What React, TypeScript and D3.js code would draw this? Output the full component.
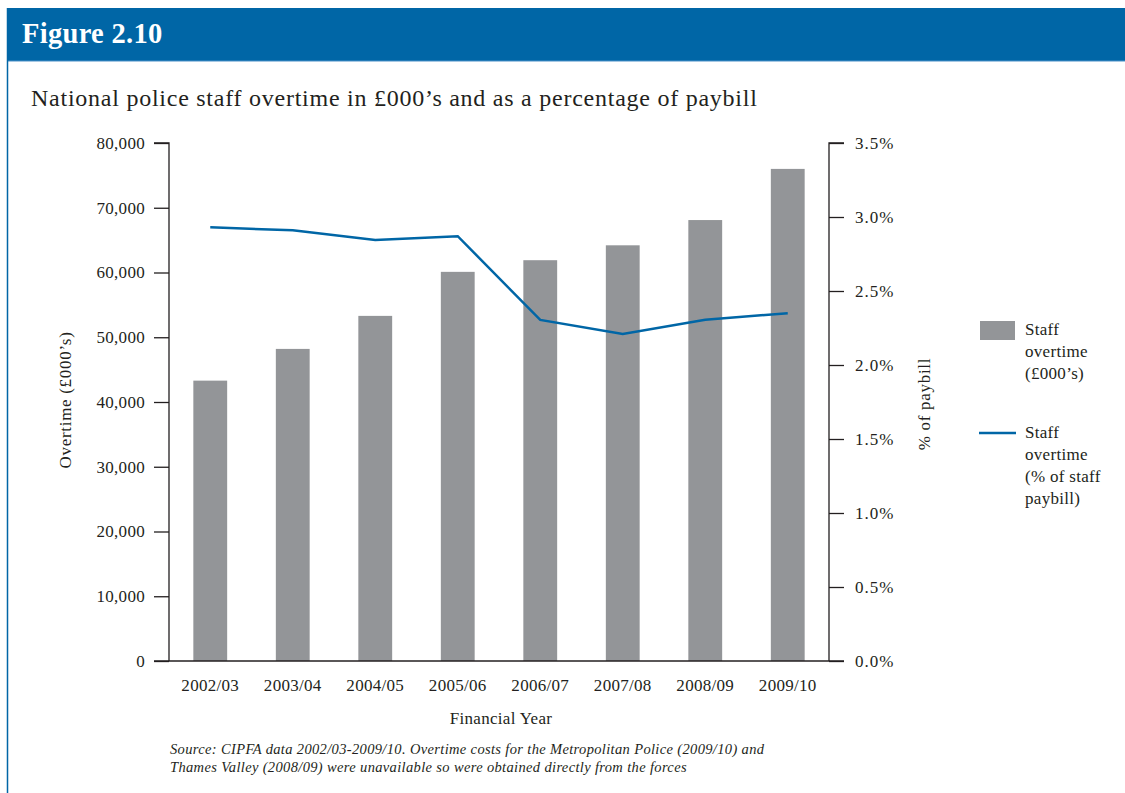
import { useEffect, useRef } from 'react';
import * as d3 from 'd3';

const YEARS = ['2002/03', '2003/04', '2004/05', '2005/06', '2006/07', '2007/08', '2008/09', '2009/10'];
const OVERTIME = [43300, 48200, 53300, 60100, 61900, 64200, 68100, 76000];
const PCT_PAYBILL = [2.93, 2.91, 2.845, 2.87, 2.305, 2.21, 2.305, 2.35];
const LEFT_TICKS = [0, 10000, 20000, 30000, 40000, 50000, 60000, 70000, 80000];
const RIGHT_TICKS = [0, 0.5, 1.0, 1.5, 2.0, 2.5, 3.0, 3.5];

const BLUE = '#0066a6';
const GREY = '#939598';
const INK = '#231f20';
const FONT = '"Liberation Serif", "Times New Roman", serif';
const FS = 17;
const LS = 0.3;

export default function App() {
  const svgRef = useRef<SVGSVGElement>(null);

  useEffect(() => {
    document.body.style.margin = '0';
    if (!svgRef.current) return;
    const width = 1125;
    const height = 793;
    const svg = d3.select(svgRef.current);
    svg.selectAll('*').remove();
    svg.attr('width', width).attr('height', height).style('display', 'block').style('font-family', FONT);

    // frame + header
    svg.append('rect').attr('x', 0).attr('y', 0).attr('width', width).attr('height', height).attr('fill', '#fff');
    svg.append('rect').attr('x', 7).attr('y', 8).attr('width', width).attr('height', 53).attr('fill', BLUE);
    svg.append('line').attr('x1', 7).attr('y1', 61).attr('x2', width).attr('y2', 61).attr('stroke', '#4a90c8').attr('stroke-width', 1);
    svg.append('line').attr('x1', 7.5).attr('y1', 8).attr('x2', 7.5).attr('y2', height).attr('stroke', BLUE).attr('stroke-width', 1.5);

    svg.append('text').attr('x', 22).attr('y', 43).attr('fill', '#fff')
      .attr('font-size', 28.5).attr('letter-spacing', 0.3).attr('font-weight', 'bold').text('Figure 2.10');
    svg.append('text').attr('x', 31).attr('y', 106).attr('fill', INK)
      .attr('font-size', 24).attr('letter-spacing', 0.75)
      .text('National police staff overtime in £000’s and as a percentage of paybill');

    const left = 169, right = 829, top = 143, bottom = 661;
    const x = d3.scaleBand<string>().domain(YEARS).range([left, right]).paddingInner(0.59).paddingOuter(0.295);
    const yL = d3.scaleLinear().domain([0, 80000]).range([bottom, top]);
    const yR = d3.scaleLinear().domain([0, 3.5]).range([bottom, top]);

    // bars
    svg.append('g').selectAll('rect').data(OVERTIME).join('rect')
      .attr('x', (_, i) => x(YEARS[i])!)
      .attr('y', d => yL(d))
      .attr('width', x.bandwidth())
      .attr('height', d => bottom - yL(d))
      .attr('fill', GREY);

    // left axis
    const gl = svg.append('g').attr('transform', `translate(${left},0)`)
      .call(d3.axisLeft(yL).tickValues(LEFT_TICKS).tickSize(15).tickPadding(9).tickFormat(d3.format(',') as any));
    gl.select('.domain').attr('stroke', INK).attr('stroke-width', 1.3).attr('d', `M-15,${top}H0V${bottom}`);
    gl.selectAll('.tick line').attr('stroke', INK).attr('stroke-width', 1.3);
    gl.selectAll('.tick text').attr('fill', INK).attr('font-size', FS).attr('letter-spacing', LS).attr('font-family', FONT);

    // right axis
    const gr = svg.append('g').attr('transform', `translate(${right},0)`)
      .call(d3.axisRight(yR).tickValues(RIGHT_TICKS).tickSize(15).tickPadding(11).tickFormat(d => `${(+d).toFixed(1)}%`));
    gr.select('.domain').attr('stroke', INK).attr('stroke-width', 1.3).attr('d', `M15,${top}H0V${bottom}`);
    gr.selectAll('.tick line').attr('stroke', INK).attr('stroke-width', 1.3);
    gr.selectAll('.tick text').attr('fill', INK).attr('font-size', FS).attr('letter-spacing', 1.0).attr('font-family', FONT);

    // x axis baseline
    svg.append('line').attr('x1', left - 15).attr('x2', right + 15).attr('y1', bottom).attr('y2', bottom)
      .attr('stroke', INK).attr('stroke-width', 1.3);
    svg.append('g').selectAll('text').data(YEARS).join('text')
      .attr('x', d => x(d)! + x.bandwidth() / 2)
      .attr('y', bottom + 30)
      .attr('text-anchor', 'middle').attr('fill', INK).attr('font-size', FS).attr('letter-spacing', LS).text(d => d);

    // line
    const line = d3.line<number>()
      .x((_, i) => x(YEARS[i])! + x.bandwidth() / 2)
      .y(d => yR(d));
    svg.append('path').datum(PCT_PAYBILL).attr('d', line).attr('fill', 'none')
      .attr('stroke', BLUE).attr('stroke-width', 2.5);

    // axis titles
    svg.append('text').attr('transform', `translate(71,400) rotate(-90)`).attr('text-anchor', 'middle')
      .attr('fill', INK).attr('font-size', FS).attr('letter-spacing', 0.7).text('Overtime (£000’s)');
    svg.append('text').attr('transform', `translate(930,404) rotate(-90)`).attr('text-anchor', 'middle')
      .attr('fill', INK).attr('font-size', FS).attr('letter-spacing', 0.7).text('% of  paybill');
    svg.append('text').attr('x', 501).attr('y', 724).attr('text-anchor', 'middle')
      .attr('fill', INK).attr('font-size', FS).attr('letter-spacing', LS).text('Financial Year');

    // legend
    const lg = svg.append('g');
    lg.append('rect').attr('x', 980).attr('y', 321).attr('width', 35).attr('height', 19).attr('fill', GREY);
    ['Staff', 'overtime', '(£000’s)'].forEach((t, i) => {
      lg.append('text').attr('x', 1025).attr('y', 335 + i * 22).attr('fill', INK)
        .attr('font-size', FS).attr('letter-spacing', LS).text(t);
    });
    lg.append('line').attr('x1', 979).attr('x2', 1016).attr('y1', 433).attr('y2', 433).attr('stroke', BLUE).attr('stroke-width', 2.5);
    ['Staff', 'overtime', '(% of staff', 'paybill)'].forEach((t, i) => {
      lg.append('text').attr('x', 1025).attr('y', 438 + i * 22).attr('fill', INK)
        .attr('font-size', FS).attr('letter-spacing', LS).text(t);
    });

    // source
    const src = [
      'Source: CIPFA data 2002/03-2009/10. Overtime costs for the Metropolitan Police (2009/10) and',
      'Thames Valley (2008/09) were unavailable so were obtained directly from the forces',
    ];
    src.forEach((t, i) => {
      svg.append('text').attr('x', 170).attr('y', 754 + i * 18).attr('fill', INK)
        .attr('font-size', 14.5).attr('letter-spacing', 0.35).attr('font-style', 'italic').text(t);
    });
  }, []);

  return <svg ref={svgRef} />;
}
